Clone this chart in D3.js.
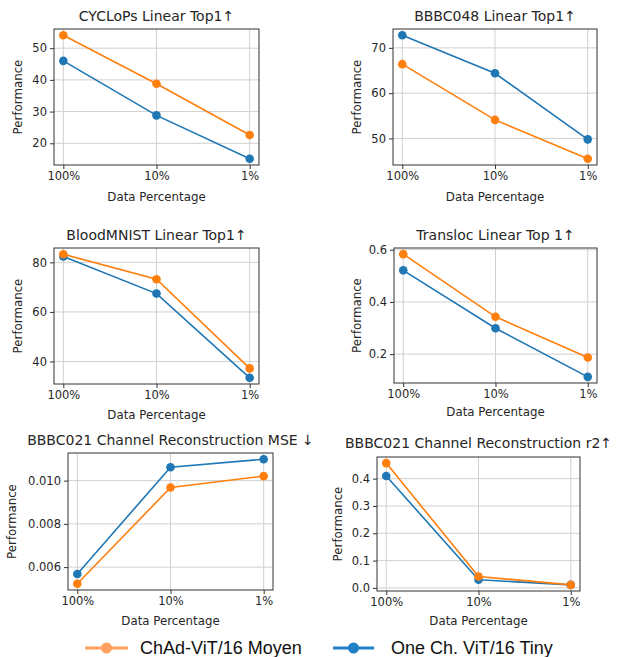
<!DOCTYPE html>
<html>
<head>
<meta charset="utf-8">
<script src="https://cdn.jsdelivr.net/npm/d3@7"></script>
<style>
  body { margin: 0; background: #fff; }
  text { font-family: "DejaVu Sans", sans-serif; fill: #262626; }
</style>
</head>
<body>
<script>
// x categories shared by every panel
const categories = ['100%', '10%', '1%'];
const seriesNames = ['ChAd-ViT/16 Moyen', 'One Ch. ViT/16 Tiny'];

// values, [Moyen, Tiny]
const cyclopsMoyen = [54.1, 38.8, 22.6];
const cyclopsTiny = [46.0, 28.8, 15.1];
const bbbc048Moyen = [66.4, 54.1, 45.5];
const bbbc048Tiny = [72.8, 64.4, 49.8];
const bloodMoyen = [83.3, 73.2, 37.2];
const bloodTiny = [82.4, 67.4, 33.4];
const translocMoyen = [0.583, 0.343, 0.187];
const translocTiny = [0.521, 0.299, 0.113];
const mseMoyen = [0.00523, 0.00968, 0.01021];
const mseTiny = [0.00568, 0.01062, 0.01099];
const r2Moyen = [0.457, 0.042, 0.011];
const r2Tiny = [0.410, 0.030, 0.011];

// y tick labels per panel
const cyclopsTicks = [20, 30, 40, 50];
const bbbc048Ticks = [50, 60, 70];
const bloodTicks = [40, 60, 80];
const translocTicks = [0.2, 0.4, 0.6];
const mseTicks = [0.006, 0.008, 0.010];
const r2Ticks = [0.0, 0.1, 0.2, 0.3, 0.4];

const orange = '#ff7f0e';
const blue = '#1f77b4';

const svg = d3.select('body')
  .append('svg')
  .attr('width', 624)
  .attr('height', 657);

const panels = [
  { title: 'CYCLoPs Linear Top1\u2191', moyen: cyclopsMoyen, tiny: cyclopsTiny, ticks: cyclopsTicks, fmt: d3.format('d'),
    box: [54, 259, 29, 165], ylabX: 18, xlabY: 201, titleY: 21 },
  { title: 'BBBC048 Linear Top1\u2191', moyen: bbbc048Moyen, tiny: bbbc048Tiny, ticks: bbbc048Ticks, fmt: d3.format('d'),
    box: [393, 597, 29, 165], ylabX: 357, xlabY: 201, titleY: 21 },
  { title: 'BloodMNIST Linear Top1\u2191', moyen: bloodMoyen, tiny: bloodTiny, ticks: bloodTicks, fmt: d3.format('d'),
    box: [54, 259, 248, 384], ylabX: 18, xlabY: 419, titleY: 240 },
  { title: 'Transloc Linear Top 1\u2191', moyen: translocMoyen, tiny: translocTiny, ticks: translocTicks, fmt: d3.format('.1f'),
    box: [394, 597, 248, 383], ylabX: 357, xlabY: 416, titleY: 240 },
  { title: 'BBBC021 Channel Reconstruction MSE \u2193', moyen: mseMoyen, tiny: mseTiny, ticks: mseTicks, fmt: d3.format('.3f'),
    box: [68, 273, 453, 590], ylabX: 12, xlabY: 625, titleY: 445 },
  { title: 'BBBC021 Channel Reconstruction r2\u2191', moyen: r2Moyen, tiny: r2Tiny, ticks: r2Ticks, fmt: d3.format('.1f'),
    box: [377, 580, 457, 591], ylabX: 338, xlabY: 625, titleY: 448 },
];

panels.forEach(drawPanel);

function drawPanel (p) {
  const [left, right, top, bottom] = p.box;
  const g = svg.append('g');

  const x = d3.scalePoint()
    .domain(categories)
    .range([left, right])
    .padding(0.1);

  // matplotlib style 5% margins
  const ext = d3.extent(p.moyen.concat(p.tiny));
  const pad = (ext[1] - ext[0]) * 0.05;
  const y = d3.scaleLinear()
    .domain([ext[0] - pad, ext[1] + pad])
    .range([bottom, top]);

  // grid
  g.selectAll('.vgrid')
    .data(categories)
    .enter()
      .append('line')
      .attr('x1', d => x(d)).attr('x2', d => x(d))
      .attr('y1', top).attr('y2', bottom)
      .attr('stroke', '#d0d0d0')
      .attr('stroke-width', 1);
  g.selectAll('.hgrid')
    .data(p.ticks)
    .enter()
      .append('line')
      .attr('x1', left).attr('x2', right)
      .attr('y1', d => y(d)).attr('y2', d => y(d))
      .attr('stroke', '#d0d0d0')
      .attr('stroke-width', 1);

  // axes
  const xAxis = g.append('g')
    .attr('transform', `translate(0 ${bottom})`)
    .call(d3.axisBottom(x).tickSize(4).tickPadding(3));
  const yAxis = g.append('g')
    .attr('transform', `translate(${left} 0)`)
    .call(d3.axisLeft(y).tickValues(p.ticks).tickFormat(p.fmt).tickSize(4).tickPadding(3));
  [xAxis, yAxis].forEach(a => {
    a.select('.domain').remove();
    a.selectAll('line').attr('stroke', '#333');
    a.selectAll('text')
      .style('font-family', '"DejaVu Sans", sans-serif')
      .style('font-size', '11.5px')
      .attr('fill', '#262626');
  });

  // lines, blue first so orange sits on top
  const line = d3.line()
    .x((d, i) => x(categories[i]))
    .y(d => y(d));

  [[p.tiny, blue], [p.moyen, orange]].forEach(([vals, col]) => {
    g.append('path')
      .datum(vals)
      .attr('d', line)
      .attr('fill', 'none')
      .attr('stroke', col)
      .attr('stroke-width', 1.6);
    g.selectAll(null)
      .data(vals)
      .enter()
        .append('circle')
        .attr('cx', (d, i) => x(categories[i]))
        .attr('cy', d => y(d))
        .attr('r', 4.3)
        .attr('fill', col);
  });

  // frame
  g.append('rect')
    .attr('x', left).attr('y', top)
    .attr('width', right - left).attr('height', bottom - top)
    .attr('fill', 'none')
    .attr('stroke', '#333')
    .attr('stroke-width', 1);

  g.append('text')
    .attr('x', (left + right) / 2)
    .attr('y', p.titleY)
    .attr('text-anchor', 'middle')
    .style('font-size', '14px')
    .text(p.title);

  g.append('text')
    .attr('x', (left + right) / 2)
    .attr('y', p.xlabY)
    .attr('text-anchor', 'middle')
    .style('font-size', '11.8px')
    .text('Data Percentage');

  g.append('text')
    .attr('transform', `translate(${p.ylabX} ${(top + bottom) / 2}) rotate(-90)`)
    .attr('text-anchor', 'middle')
    .attr('dy', '0.35em')
    .style('font-size', '11.8px')
    .text('Performance');
}

// legend
const legend = [
  { name: seriesNames[0], col: '#ffa05e', x1: 85, x2: 128, tx: 140 },
  { name: seriesNames[1], col: '#1f80c6', x1: 333, x2: 374, tx: 391 },
];
legend.forEach(l => {
  svg.append('line')
    .attr('x1', l.x1).attr('x2', l.x2)
    .attr('y1', 648).attr('y2', 648)
    .attr('stroke', l.col)
    .attr('stroke-width', 3);
  svg.append('circle')
    .attr('cx', (l.x1 + l.x2) / 2)
    .attr('cy', 648)
    .attr('r', 5.5)
    .attr('fill', l.col);
  svg.append('text')
    .attr('x', l.tx)
    .attr('y', 654)
    .style('font-family', '"Liberation Sans", Arial, sans-serif')
    .style('font-size', '18px')
    .style('fill', '#111')
    .text(l.name);
});
</script>
</body>
</html>
